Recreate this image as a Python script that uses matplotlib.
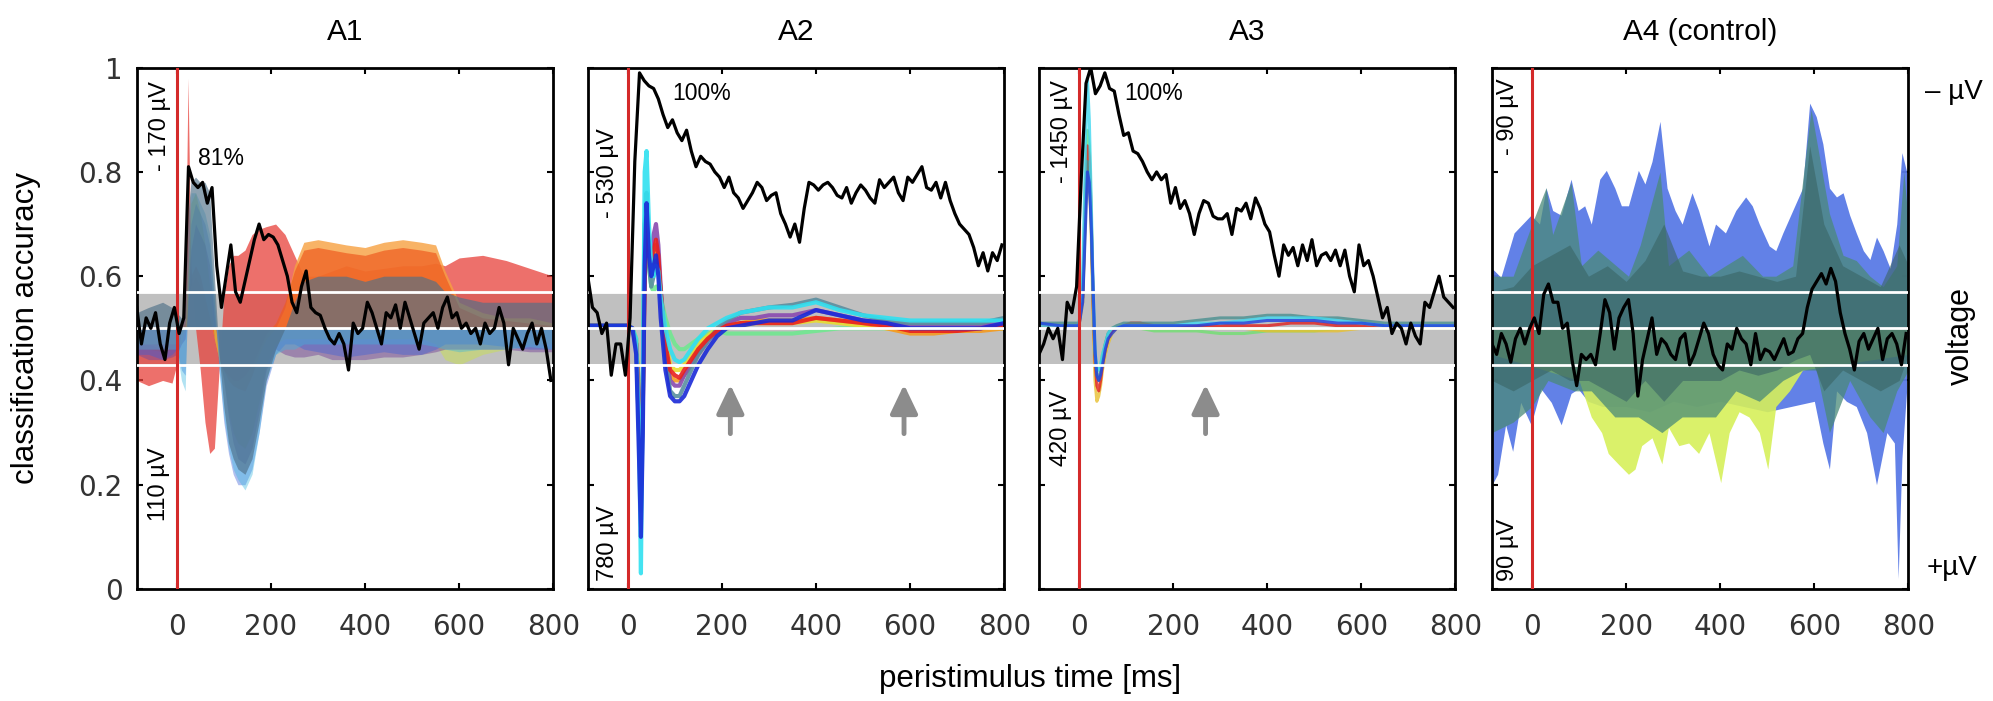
import numpy as np
import matplotlib
matplotlib.use('Agg')
import matplotlib.pyplot as plt

plt.rcParams['font.family'] = ['Liberation Sans', 'DejaVu Sans']

# ---- classification accuracy (black traces), one sample every 10 ms ----
t_acc = np.arange(-85, 800, 10)

acc_a1 = [.54, .47, .52, .50, .53, .47, .44, .51, .54, .49,
          .52, .81, .78, .77, .78, .74, .77, .62, .54, .60,
          .66, .57, .55, .59, .63, .67, .70, .67, .68, .675,
          .66, .63, .60, .55, .53, .58, .61, .54, .53, .525,
          .50, .48, .47, .49, .47, .42, .51, .49, .50, .55,
          .53, .50, .47, .53, .52, .545, .50, .55, .52, .49,
          .46, .51, .52, .53, .50, .54, .56, .52, .53, .50,
          .51, .49, .50, .47, .51, .49, .50, .54, .51, .43,
          .50, .48, .46, .49, .51, .47, .50, .46, .40]
acc_a2 = [.60, .54, .53, .49, .51, .41, .47, .47, .41, .52,
          .82, .99, .975, .965, .96, .94, .91, .885, .90, .875,
          .86, .88, .84, .81, .83, .82, .815, .80, .79, .77,
          .79, .76, .75, .73, .745, .76, .78, .77, .745, .755,
          .76, .72, .70, .675, .70, .665, .73, .78, .775, .765,
          .775, .78, .77, .755, .75, .77, .74, .76, .775, .765,
          .75, .74, .785, .77, .78, .79, .76, .745, .79, .78,
          .795, .81, .77, .765, .78, .75, .78, .745, .72, .70,
          .69, .68, .655, .62, .645, .61, .645, .63, .66]
acc_a3 = [.45, .47, .50, .48, .50, .44, .55, .53, .58, .79,
          .97, 1.0, .95, .965, .99, .96, .955, .91, .87, .875,
          .84, .835, .82, .80, .785, .80, .785, .795, .74, .77,
          .73, .745, .72, .68, .72, .745, .74, .715, .71, .71,
          .72, .68, .73, .725, .74, .71, .75, .73, .70, .685,
          .64, .60, .66, .64, .655, .62, .66, .63, .67, .62,
          .64, .645, .63, .65, .62, .65, .60, .57, .66, .62,
          .63, .60, .56, .52, .54, .49, .51, .50, .47, .51,
          .485, .47, .55, .54, .57, .60, .56, .55, .54]
acc_a4 = [.47, .45, .49, .47, .435, .48, .50, .47, .50, .52,
          .49, .565, .585, .55, .55, .50, .51, .44, .39, .45,
          .44, .45, .43, .49, .555, .53, .46, .52, .54, .555,
          .49, .37, .44, .48, .52, .45, .48, .47, .45, .44,
          .48, .49, .43, .45, .48, .51, .49, .45, .43, .42,
          .47, .46, .50, .48, .47, .43, .49, .44, .46, .455,
          .44, .46, .48, .45, .455, .48, .49, .54, .575, .59,
          .605, .585, .615, .59, .53, .49, .46, .42, .475, .49,
          .46, .48, .50, .44, .48, .49, .47, .43, .49]

chance = 0.5
band_edges = [0.432, 0.568]
white_lines = [0.43, 0.5, 0.57]

# ---- A1: channel voltages (scaled), drawn as filled areas ----
t_a1 = [-85, -60, -30, -10, 0, 10, 18, 24, 30, 40,
        50, 60, 70, 80, 90, 100, 110, 120, 130, 145,
        160, 175, 190, 210, 230, 250, 270, 300, 330, 360,
        400, 440, 480, 520, 550, 570, 600, 650, 700, 750, 800]
a1_red = [.40, .39, .40, .395, .43, .50, .56, .98, .62, .50,
          .42, .32, .26, .27, .42, .56, .62, .64, .64, .65,
          .68, .69, .695, .70, .68, .64, .60, .60, .61, .62,
          .61, .615, .62, .62, .625, .62, .635, .64, .63, .615, .60]
a1_orange = [.47, .47, .46, .46, .47, .49, .50, .55, .58, .60,
             .58, .55, .52, .48, .44, .42, .40, .39, .385, .38,
             .41, .45, .48, .50, .54, .62, .665, .67, .665, .66,
             .655, .665, .67, .665, .66, .61, .55, .53, .52, .52, .51]
a1_darkorange = [.46, .46, .455, .46, .47, .50, .51, .56, .60, .62,
                 .60, .56, .52, .48, .44, .42, .41, .40, .40, .41,
                 .43, .46, .49, .51, .55, .61, .65, .655, .65, .645,
                 .64, .65, .655, .65, .645, .60, .54, .52, .515, .51, .505]
a1_yellow = [.47, .47, .47, .47, .47, .47, .50, .62, .74, .76,
             .72, .66, .58, .48, .44, .40, .34, .30, .28, .27,
             .30, .36, .43, .47, .48, .48, .48, .48, .48, .48,
             .48, .48, .48, .48, .47, .44, .43, .45, .46, .47, .47]
a1_purple = [.45, .44, .44, .445, .45, .47, .48, .55, .65, .70,
             .68, .66, .62, .52, .45, .40, .33, .28, .25, .24,
             .27, .34, .42, .46, .45, .445, .445, .45, .44, .44,
             .44, .445, .445, .45, .455, .46, .46, .46, .46, .455, .455]
a1_blue = [.45, .45, .44, .45, .46, .42, .41, .55, .70, .74,
           .72, .70, .66, .55, .42, .32, .26, .22, .20, .20,
           .23, .30, .39, .45, .47, .47, .46, .455, .45, .445,
           .45, .455, .45, .45, .46, .47, .47, .47, .465, .46, .46]
a1_cyan = [.46, .46, .46, .46, .46, .40, .38, .60, .76, .76,
           .74, .72, .68, .56, .42, .33, .27, .23, .21, .19,
           .22, .30, .40, .45, .46, .46, .47, .47, .47, .47,
           .47, .47, .47, .47, .465, .46, .455, .46, .46, .465, .46]
a1_teal = [.53, .54, .55, .54, .53, .52, .55, .72, .78, .79,
           .78, .78, .76, .60, .45, .35, .28, .25, .23, .22,
           .25, .32, .40, .46, .50, .55, .59, .60, .60, .60,
           .59, .60, .60, .60, .59, .57, .56, .55, .55, .55, .55]

# ---- A2: channel voltages (scaled), drawn as lines ----
t_a2 = [-85, -40, -10, 0, 10, 18, 24, 28, 32, 36,
        40, 45, 50, 55, 60, 65, 70, 80, 90, 100,
        110, 120, 135, 150, 170, 190, 210, 240, 270, 300,
        350, 400, 450, 500, 550, 600, 650, 700, 750, 800]
a2_green = [.505, .505, .505, .505, .50, .48, .38, .20, .42, .70,
            .72, .62, .58, .57, .58, .58, .56, .52, .49, .47,
            .46, .46, .47, .48, .49, .495, .49, .49, .49, .49,
            .49, .495, .50, .50, .50, .50, .50, .50, .50, .50]
a2_yellow = [.505, .505, .505, .505, .50, .48, .36, .22, .40, .64,
             .72, .66, .61, .62, .64, .62, .57, .48, .43, .42,
             .42, .43, .45, .47, .485, .50, .50, .505, .51, .51,
             .51, .515, .51, .505, .50, .495, .495, .495, .50, .50]
a2_orange = [.505, .505, .505, .505, .50, .47, .33, .18, .38, .62,
             .70, .66, .62, .64, .66, .63, .56, .46, .41, .40,
             .40, .41, .43, .46, .48, .495, .505, .51, .515, .515,
             .515, .52, .515, .51, .50, .49, .49, .495, .495, .50]
a2_purple = [.505, .505, .505, .505, .50, .47, .35, .20, .40, .60,
             .66, .62, .64, .68, .70, .66, .58, .46, .40, .39,
             .39, .41, .43, .45, .475, .495, .51, .52, .52, .525,
             .525, .535, .525, .515, .51, .505, .505, .505, .505, .51]
a2_teal = [.505, .505, .505, .505, .50, .46, .30, .15, .35, .70,
           .76, .62, .58, .60, .63, .62, .57, .45, .38, .37,
           .37, .39, .42, .45, .475, .50, .515, .53, .535, .54,
           .545, .555, .54, .525, .515, .51, .51, .51, .51, .52]
a2_red = [.505, .505, .505, .505, .50, .47, .35, .20, .35, .60,
          .70, .66, .63, .65, .67, .64, .57, .47, .42, .41,
          .405, .42, .44, .46, .48, .495, .505, .51, .51, .51,
          .51, .52, .515, .51, .505, .495, .495, .495, .50, .505]
a2_cyan = [.505, .505, .505, .505, .50, .48, .30, .03, .40, .80,
           .84, .70, .62, .60, .62, .61, .56, .50, .46, .44,
           .435, .44, .46, .48, .50, .51, .52, .53, .535, .54,
           .54, .55, .535, .525, .52, .515, .515, .515, .515, .515]
a2_blue = [.505, .505, .505, .505, .50, .45, .25, .10, .30, .62,
           .74, .64, .60, .62, .64, .60, .52, .42, .37, .36,
           .36, .37, .40, .43, .46, .485, .50, .505, .51, .515,
           .515, .535, .525, .515, .51, .50, .50, .50, .50, .51]

# ---- A3: channel voltages (scaled), drawn as lines ----
t_a3 = [-85, -40, -10, 0, 8, 14, 18, 22, 26, 30,
        34, 38, 42, 46, 50, 56, 62, 70, 80, 95,
        110, 130, 160, 200, 250, 300, 350, 400, 450, 500,
        550, 600, 650, 700, 750, 800]
a3_green = [.505, .505, .505, .505, .58, .78, .88, .85, .72, .56,
            .45, .42, .42, .43, .45, .47, .49, .50, .50, .50,
            .50, .50, .495, .495, .495, .49, .49, .495, .495, .495,
            .50, .50, .50, .50, .50, .50]
a3_yellow = [.505, .505, .505, .505, .55, .72, .82, .80, .68, .52,
             .40, .36, .37, .39, .42, .45, .47, .49, .50, .50,
             .50, .50, .50, .50, .50, .50, .50, .495, .495, .495,
             .495, .50, .50, .50, .50, .50]
a3_red = [.505, .505, .505, .505, .56, .75, .85, .83, .72, .55,
          .44, .39, .38, .40, .43, .46, .48, .495, .50, .505,
          .51, .51, .505, .505, .505, .505, .505, .505, .51, .51,
          .505, .505, .505, .505, .505, .505]
a3_teal = [.51, .51, .51, .51, .56, .74, .82, .80, .70, .56,
           .45, .41, .40, .42, .44, .47, .49, .50, .505, .51,
           .51, .51, .51, .51, .515, .52, .52, .525, .525, .52,
           .52, .515, .51, .51, .51, .51]
a3_cyan = [.505, .505, .505, .505, .60, .85, .98, .90, .75, .58,
           .46, .42, .42, .43, .45, .47, .49, .50, .50, .505,
           .505, .505, .505, .505, .51, .51, .515, .52, .52, .52,
           .515, .51, .505, .505, .505, .505]
a3_blue = [.51, .505, .505, .505, .55, .70, .80, .78, .70, .58,
           .46, .41, .40, .41, .43, .46, .48, .49, .50, .505,
           .505, .505, .505, .505, .505, .51, .51, .515, .515, .515,
           .51, .51, .505, .505, .505, .505]

# ---- A4 (control): envelopes of the channel voltages ----
t_a4_blue_up = [-85, -66, -38, -2, 16, 30, 44, 62, 83, 98,
                112, 126, 144, 158, 176, 190, 205, 226, 240, 255,
                272, 287, 304, 319, 340, 354, 376, 390, 411, 433,
                454, 468, 483, 504, 518, 533, 554, 575, 590, 604,
                618, 632, 647, 661, 675, 689, 704, 718, 732, 746,
                761, 775, 786, 800]
a4_blue_up = [.615, .598, .683, .717, .70, .769, .726, .717, .786, .726,
              .735, .70, .786, .803, .769, .735, .735, .803, .777, .82,
              .897, .769, .726, .70, .76, .726, .658, .70, .683, .726,
              .752, .735, .70, .658, .649, .683, .726, .769, .932, .906,
              .854, .769, .752, .76, .717, .683, .649, .632, .675, .649,
              .615, .70, .837, .786]
t_a4_blue_dn = [-85, -73, -56, -41, -24, -2, 19, 41, 62, 83,
                98, 119, 150, 200, 250, 300, 350, 400, 450, 500,
                550, 600, 618, 632, 647, 668, 689, 711, 732, 754,
                770, 778, 786, 796]
a4_blue_dn = [.20, .22, .315, .264, .358, .315, .384, .358, .315, .375,
              .384, .36, .35, .35, .34, .36, .35, .36, .35, .34,
              .35, .36, .28, .23, .38, .36, .35, .30, .20, .30,
              .28, .02, .25, .38]
t_a4_yellow_dn = [-85, 100, 126, 148, 162, 183, 205, 219, 233, 255,
                  276, 290, 312, 333, 354, 376, 401, 419, 440, 461,
                  483, 501, 518, 547, 575, 800]
a4_yellow_dn = [.45, .40, .33, .30, .26, .24, .22, .23, .275, .29,
                .24, .31, .275, .28, .26, .30, .204, .30, .34, .33,
                .30, .23, .35, .38, .42, .45]
t_a4_teal_up = [-85, -40, 0, 30, 44, 83, 105, 140, 205, 230,
                272, 290, 333, 376, 411, 447, 490, 518, 554, 593,
                632, 661, 689, 718, 746, 775, 790, 800]
a4_teal_up = [.60, .60, .70, .77, .68, .78, .62, .65, .60, .66,
              .80, .62, .65, .60, .62, .64, .60, .60, .62, .92,
              .72, .64, .63, .60, .58, .62, .80, .70]
t_a4_teal_dn = [-85, -40, 0, 34, 90, 126, 176, 226, 276, 319,
                390, 433, 483, 533, 575, 604, 632, 675, 718, 746,
                775, 800]
a4_teal_dn = [.30, .32, .35, .40, .38, .38, .33, .33, .30, .33,
              .33, .38, .36, .40, .42, .42, .30, .40, .33, .30,
              .38, .42]
t_a4_core = [-85, -40, 0, 40, 80, 120, 160, 200, 240, 280,
             320, 360, 400, 440, 480, 520, 560, 590, 620, 660,
             700, 740, 780, 800]
a4_core_hi = [.57, .58, .62, .64, .66, .60, .62, .59, .63, .70,
              .61, .60, .60, .61, .60, .59, .60, .85, .70, .62,
              .60, .58, .66, .62]
a4_core_lo = [.40, .38, .40, .42, .40, .40, .38, .36, .40, .36,
              .40, .40, .40, .42, .41, .42, .44, .45, .38, .42,
              .40, .38, .40, .45]

titles = ['A1', 'A2', 'A3', 'A4 (control)']
peak_labels = ['81%', '100%', '100%', None]
volt_top = ['- 170 µV', '- 530 µV', '- 1450 µV', '- 90 µV']
volt_bottom = ['110 µV', '780 µV', '420 µV', '90 µV']
arrow_times = [[], [218, 587], [269], []]


fig = plt.figure(figsize=(19.93, 7.01), dpi=100)
lefts = [0.0686, 0.2949, 0.5213, 0.7486]
axes = [fig.add_axes([l, 0.1598, 0.2090, 0.7437]) for l in lefts]

for i, ax in enumerate(axes):
    ax.set_xlim(-85, 800)
    ax.set_ylim(0, 1)
    ax.axhspan(band_edges[0], band_edges[1], color='#c0c0c0', lw=0, zorder=1)
    ax.set_xticks([0, 200, 400, 600, 800])
    ax.set_yticks([0, 0.2, 0.4, 0.6, 0.8, 1])
    ax.set_yticklabels(['0', '0.2', '0.4', '0.6', '0.8', '1'])
    ax.tick_params(direction='in', length=4, width=1.5, top=True, right=True,
                   labelsize=20, labelcolor='#333333', labelfontfamily='DejaVu Sans')
    ax.tick_params(axis='x', pad=17)
    ax.tick_params(axis='y', pad=10)
    if i > 0:
        ax.tick_params(axis='y', labelleft=False)
    for s in ax.spines.values():
        s.set_linewidth(2)
    ax.text(0.5, 1.053, titles[i], transform=ax.transAxes, ha='center',
            va='baseline', fontsize=21.5)

# A1: filled channel areas (muted by overlap, like the original)
ax = axes[0]
a1_sets = [(a1_red, '#e8403a', 0.75), (a1_orange, '#f7a040', 0.8),
           (a1_darkorange, '#ef5b20', 0.7), (a1_yellow, '#c8e050', 0.5),
           (a1_purple, '#7a4a9a', 0.5), (a1_blue, '#3a5fd8', 0.4),
           (a1_cyan, '#3cb8e0', 0.4), (a1_teal, '#4f7088', 0.65)]
for vals, col, al in a1_sets:
    ax.fill_between(t_a1, chance, vals, color=col, alpha=al, lw=0, zorder=2)

# A2 / A3: channel lines
a2_sets = [(a2_green, '#70e890'), (a2_yellow, '#e8dc30'), (a2_orange, '#f59a20'),
           (a2_purple, '#8a4ab0'), (a2_teal, '#5a8fa0'), (a2_red, '#e82020'),
           (a2_cyan, '#30e0f0'), (a2_blue, '#1a2ad8')]
for vals, col in a2_sets:
    axes[1].plot(t_a2, vals, color=col, lw=3, alpha=0.9, zorder=2)
a3_sets = [(a3_green, '#70e070'), (a3_yellow, '#e8c030'), (a3_red, '#e02020'),
           (a3_teal, '#4a9090'), (a3_cyan, '#40d8f0'), (a3_blue, '#2040e0')]
for vals, col in a3_sets:
    axes[2].plot(t_a3, vals, color=col, lw=2.2, alpha=0.8, zorder=2)

# A4: envelopes
ax = axes[3]
ax.fill_between(t_a4_blue_up, chance, a4_blue_up, color='#5a7ae6', alpha=0.95, lw=0, zorder=2)
ax.fill_between(t_a4_blue_dn, chance, a4_blue_dn, color='#5a7ae6', alpha=0.95, lw=0, zorder=2)
ax.fill_between(t_a4_yellow_dn, chance, a4_yellow_dn, color='#d6f05a', alpha=0.9, lw=0, zorder=2)
ax.fill_between(t_a4_teal_up, chance, a4_teal_up, color='#4a8a78', alpha=0.75, lw=0, zorder=2)
ax.fill_between(t_a4_teal_dn, chance, a4_teal_dn, color='#4a8a78', alpha=0.75, lw=0, zorder=2)
ax.fill_between(t_a4_core, a4_core_lo, a4_core_hi, color='#3a6464', alpha=0.6, lw=0, zorder=2)

accs = [acc_a1, acc_a2, acc_a3, acc_a4]
for i, ax in enumerate(axes):
    for y in white_lines:
        ax.axhline(y, color='white', lw=2, zorder=3)
    ax.axvline(0, color='#d42a2a', lw=2.2, zorder=4)
    ax.plot(t_acc, accs[i], color='black', lw=2.3, zorder=5)
    for ta in arrow_times[i]:
        ax.annotate('', xy=(ta, 0.392), xytext=(ta, 0.298),
                    arrowprops=dict(arrowstyle='-|>,head_width=0.42,head_length=0.88',
                                    color='#8c8c8c', lw=3.5, shrinkA=0, shrinkB=0,
                                    mutation_scale=20), zorder=6)

# voltage scale labels inside panels
top_pos = [(-35, 0.975), (-42, 0.884), (-36, 0.976), (-50, 0.98)]
bot_pos = [(-37, 0.13, 'bottom'), (-42, 0.015, 'bottom'), (-38, 0.38, 'top'), (-50, 0.015, 'bottom')]
for i, ax in enumerate(axes):
    x, y = top_pos[i]
    ax.text(x, y, volt_top[i], rotation=90, ha='center', va='top', fontsize=17, zorder=7)
    x, y, va = bot_pos[i]
    ax.text(x, y, volt_bottom[i], rotation=90, ha='center', va=va, fontsize=17, zorder=7)

peak_pos = [(45, 0.826), (95, 0.95), (97, 0.95)]
for i in range(3):
    axes[i].text(peak_pos[i][0], peak_pos[i][1], peak_labels[i], ha='left',
                 va='center', fontsize=16.5, zorder=7)

fig.text(0.013, 0.532, 'classification accuracy', rotation=90, ha='center',
         va='center', fontsize=22.5)
fig.text(0.517, 0.02, 'peristimulus time [ms]', ha='center', va='baseline',
         fontsize=22.5)
fig.text(0.9659, 0.8688, '\u2013 µV', ha='left', va='center', fontsize=20)
fig.text(0.9669, 0.1897, '+µV', ha='left', va='center', fontsize=20)
fig.text(0.984, 0.52, 'voltage', rotation=90, ha='center', va='center', fontsize=22)

fig.savefig('out.png', dpi=100)
